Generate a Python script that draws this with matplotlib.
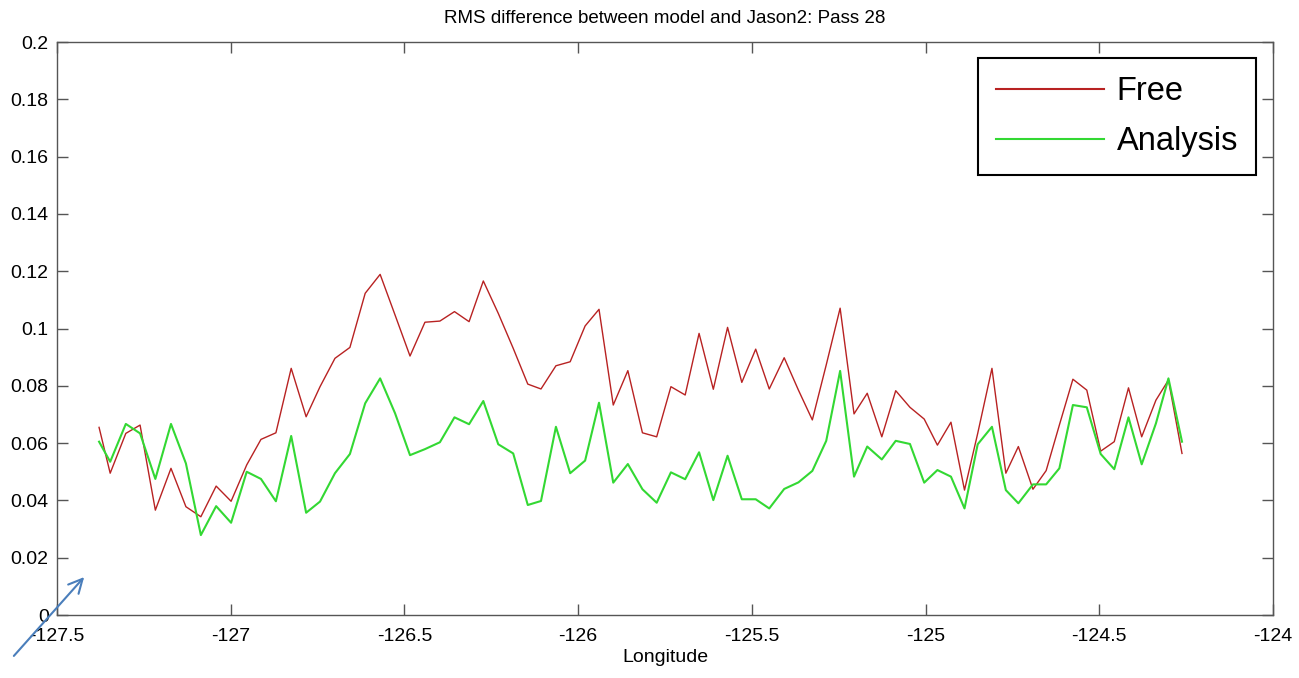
import matplotlib
matplotlib.use('Agg')
import matplotlib.pyplot as plt
from matplotlib.ticker import FormatStrFormatter

plt.rcParams['font.family'] = ['Liberation Sans', 'DejaVu Sans']

# longitude of each along-track point
lon = [-127.379, -127.347, -127.302, -127.261, -127.217, -127.172, -127.129, -127.086,
       -127.042, -126.999, -126.954, -126.913, -126.870, -126.826, -126.783, -126.743,
       -126.700, -126.657, -126.613, -126.570, -126.527, -126.484, -126.441, -126.398,
       -126.356, -126.314, -126.273, -126.230, -126.187, -126.145, -126.107, -126.064,
       -126.023, -125.980, -125.940, -125.899, -125.857, -125.815, -125.774, -125.733,
       -125.692, -125.652, -125.611, -125.570, -125.529, -125.489, -125.450, -125.407,
       -125.366, -125.326, -125.286, -125.246, -125.206, -125.168, -125.126, -125.086,
       -125.045, -125.004, -124.966, -124.927, -124.888, -124.850, -124.809, -124.769,
       -124.733, -124.691, -124.653, -124.615, -124.576, -124.536, -124.496, -124.457,
       -124.416, -124.378, -124.337, -124.301, -124.262]

free = [0.0655, 0.0495, 0.0634, 0.0663, 0.0366, 0.0512, 0.0378, 0.0343,
        0.0450, 0.0397, 0.0524, 0.0613, 0.0636, 0.0861, 0.0692, 0.0797,
        0.0896, 0.0934, 0.1123, 0.1189, 0.1047, 0.0904, 0.1022, 0.1026,
        0.1059, 0.1024, 0.1166, 0.1053, 0.0931, 0.0806, 0.0789, 0.0870,
        0.0884, 0.1009, 0.1067, 0.0733, 0.0853, 0.0636, 0.0622, 0.0797,
        0.0768, 0.0983, 0.0788, 0.1004, 0.0812, 0.0928, 0.0789, 0.0898,
        0.0785, 0.0681, 0.0873, 0.1071, 0.0702, 0.0774, 0.0622, 0.0783,
        0.0725, 0.0684, 0.0593, 0.0673, 0.0436, 0.0634, 0.0861, 0.0495,
        0.0588, 0.0439, 0.0504, 0.0663, 0.0823, 0.0785, 0.0572, 0.0605,
        0.0793, 0.0622, 0.0750, 0.0820, 0.0564]

analysis = [0.0605, 0.0535, 0.0667, 0.0634, 0.0475, 0.0667, 0.0529, 0.0279,
            0.0380, 0.0322, 0.0500, 0.0475, 0.0397, 0.0625, 0.0357, 0.0396,
            0.0495, 0.0562, 0.0739, 0.0826, 0.0704, 0.0558, 0.0579, 0.0603,
            0.0690, 0.0666, 0.0747, 0.0596, 0.0564, 0.0384, 0.0398, 0.0657,
            0.0495, 0.0539, 0.0741, 0.0462, 0.0527, 0.0439, 0.0392, 0.0498,
            0.0474, 0.0568, 0.0401, 0.0556, 0.0404, 0.0404, 0.0372, 0.0440,
            0.0463, 0.0503, 0.0608, 0.0852, 0.0483, 0.0588, 0.0543, 0.0608,
            0.0597, 0.0462, 0.0506, 0.0483, 0.0372, 0.0596, 0.0657, 0.0436,
            0.0390, 0.0456, 0.0456, 0.0512, 0.0733, 0.0725, 0.0562, 0.0509,
            0.0690, 0.0526, 0.0669, 0.0826, 0.0605]

xticks = [-127.5, -127, -126.5, -126, -125.5, -125, -124.5, -124]
yticks = [0, 0.02, 0.04, 0.06, 0.08, 0.1, 0.12, 0.14, 0.16, 0.18, 0.2]

fig = plt.figure(figsize=(12.99, 6.78), dpi=100)
ax = fig.add_axes([0.0439, 0.0929, 0.9361, 0.8451])

ax.plot(lon, free, color='#b82222', lw=1.0, label='Free')
ax.plot(lon, analysis, color='#33d833', lw=1.5, label='Analysis')

ax.set_xlim(-127.5, -124)
ax.set_ylim(0, 0.2)
ax.set_xticks(xticks)
ax.set_yticks(yticks)
ax.xaxis.set_major_formatter(FormatStrFormatter('%g'))
ax.yaxis.set_major_formatter(FormatStrFormatter('%g'))
ax.tick_params(direction='in', length=8, width=1, color='#555555', top=True, right=True,
               labelsize=14, pad=6)
ax.tick_params(axis='x', pad=9)
for s in ax.spines.values():
    s.set_color('#555555')
    s.set_linewidth(1.0)

ax.set_title('RMS difference between model and Jason2: Pass 28', fontsize=13.5, pad=14)
ax.set_xlabel('Longitude', fontsize=14, labelpad=3)

leg = ax.legend(loc='upper right', bbox_to_anchor=(0.986, 0.972), fontsize=23.5,
                fancybox=False, framealpha=1, edgecolor='black', handlelength=3.3,
                borderpad=0.55, labelspacing=0.58, handletextpad=0.4, borderaxespad=0)
leg.get_frame().set_linewidth(1.5)
for ln in leg.get_lines():
    ln.set_linewidth(1.5)

# blue annotation arrow in the lower left corner
ax.annotate('', xy=(86, 103), xycoords='figure pixels', xytext=(12, 20),
            textcoords='figure pixels',
            arrowprops=dict(arrowstyle='->,head_length=1.0,head_width=0.5',
                            color='#4a7ebb', lw=1.5))

fig.savefig('out.png', dpi=100)
